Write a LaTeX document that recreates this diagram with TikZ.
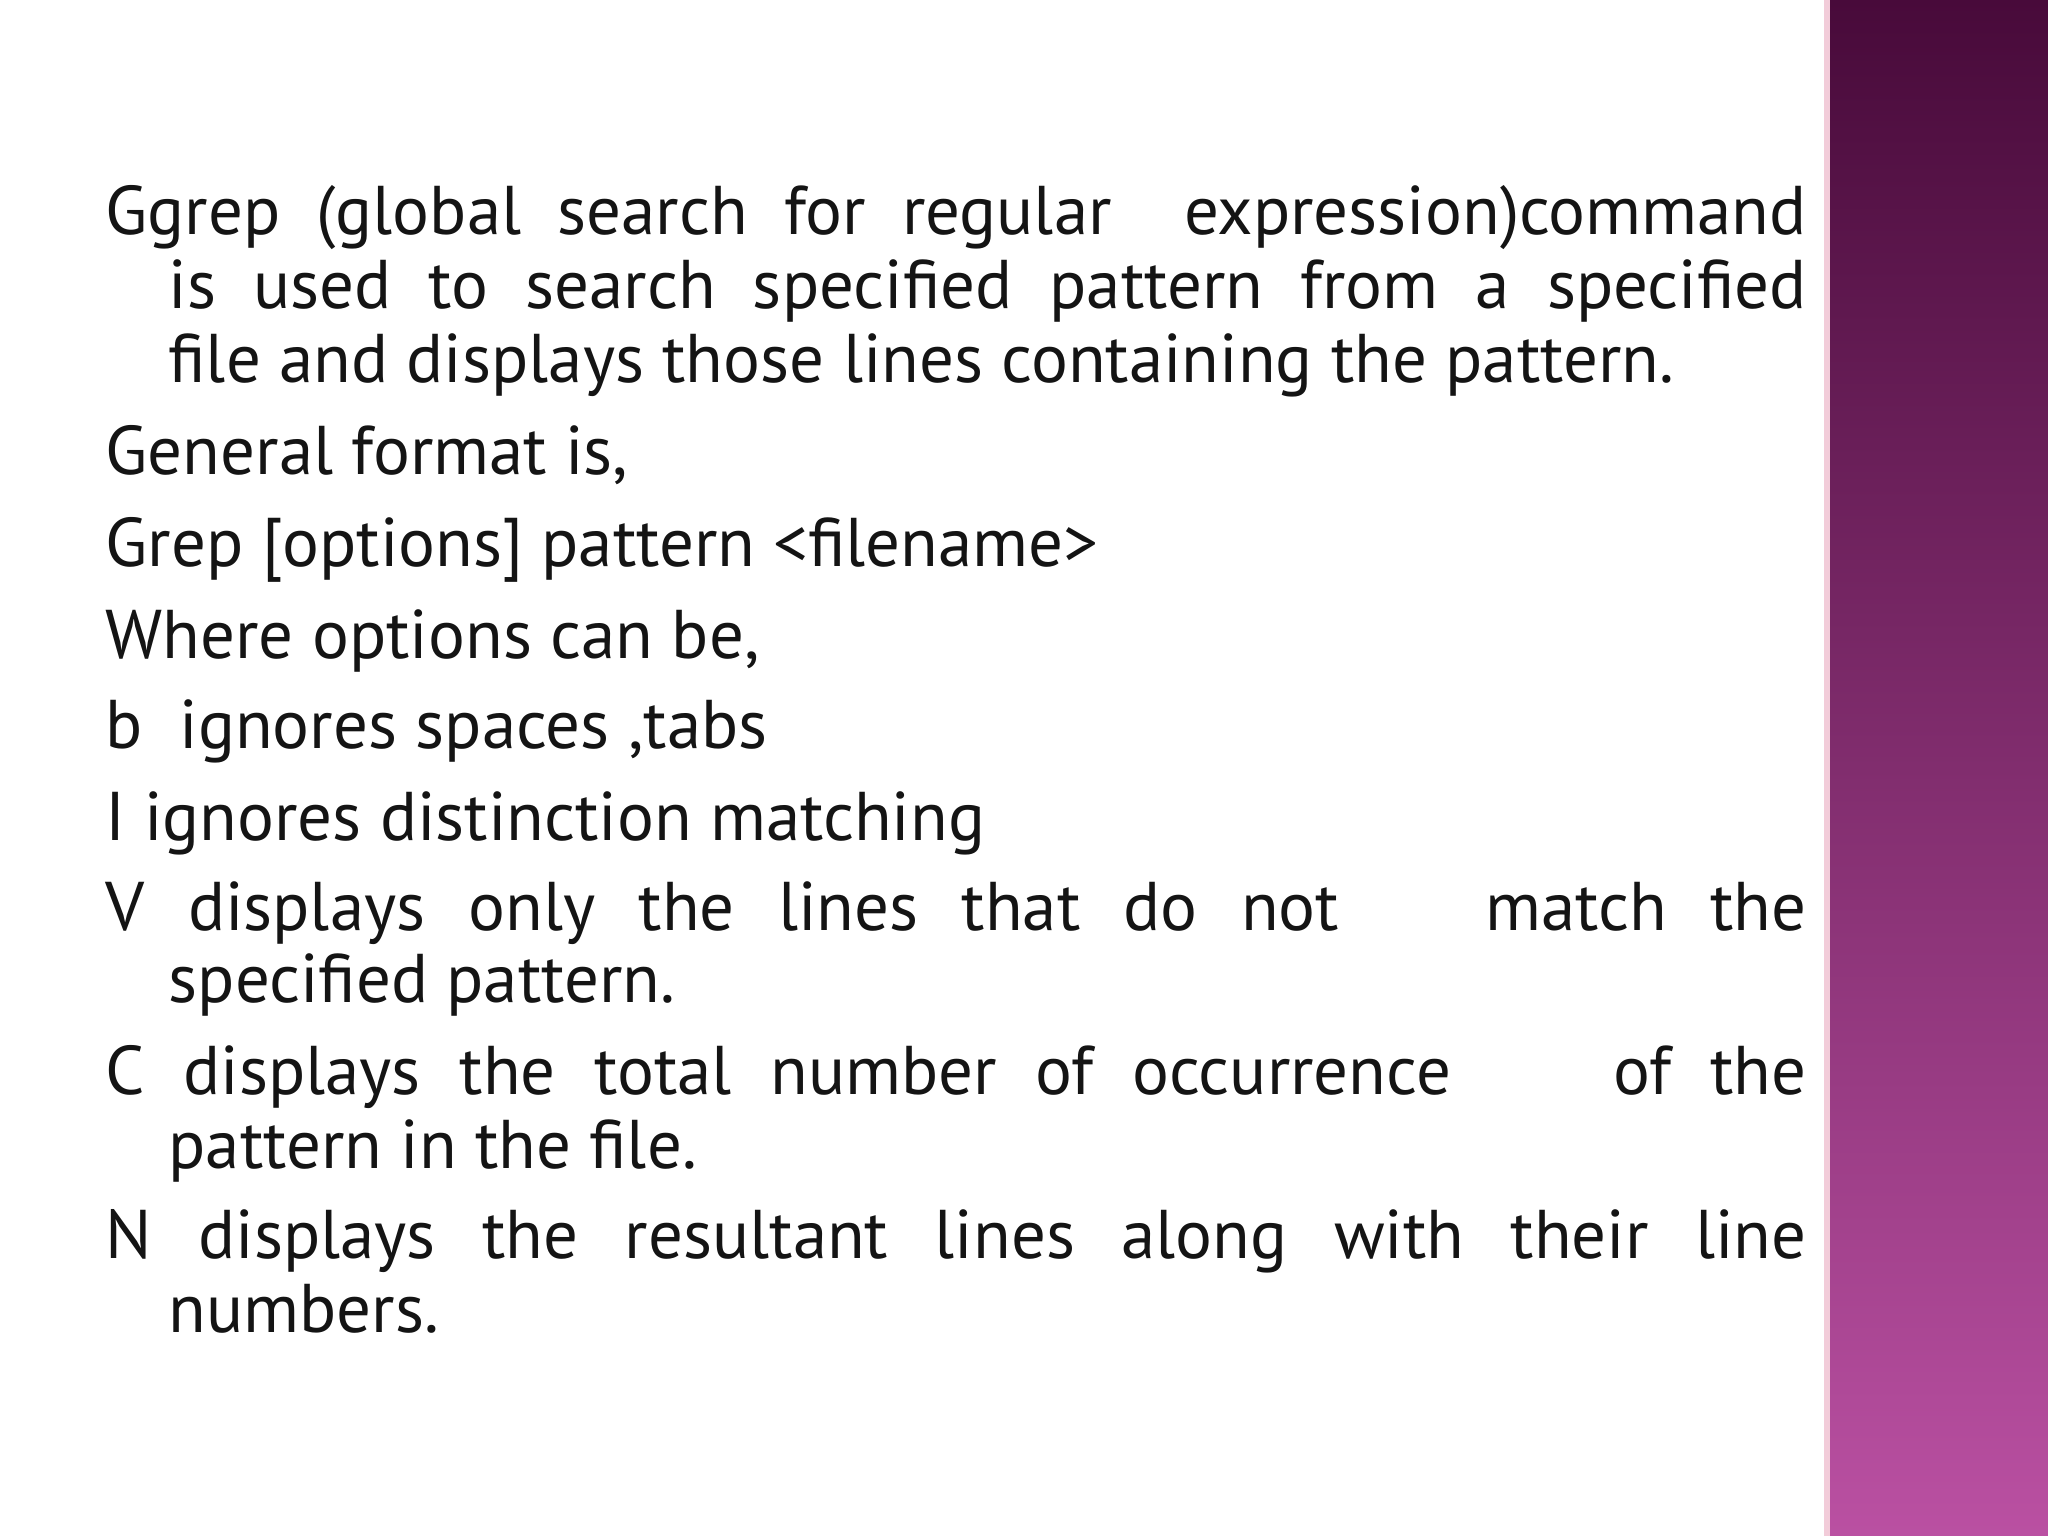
\documentclass[tikz,border=0pt]{standalone}
\usepackage{fontspec}
\setmainfont{PT Sans}
\begin{document}
\begin{tikzpicture}[x=0.01cm,y=-0.01cm,
  ln/.style={anchor=base west,inner sep=0,font=\fontsize{19.6pt}{22pt}\selectfont,text=black!92}]
\useasboundingbox (0,0) rectangle (2048,1536);
\fill[white] (0,0) rectangle (2048,1536);
\shade[top color={rgb,255:red,72;green,10;blue,58},bottom color={rgb,255:red,186;green,80;blue,162}] (1826,0) rectangle (2048,1536);
\draw[white!80!purple,line width=1.5pt] (1827,0) -- (1827,1536);
\node[ln] (l1) at (105,234) {\makebox[17cm][s]{Ggrep (global search for regular \ expression)command}};
\node[ln] (l2) at (168,308) {\makebox[16.37cm][s]{is used to search specified pattern from a specified}};
\node[ln] (l3) at (168,382) {file and displays those lines containing the pattern.};
\node[ln] (l4) at (105,474) {General format is,};
\node[ln] (l5) at (105,566) {Grep [options] pattern <filename>};
\node[ln] (l6) at (105,658) {Where options can be,};
\node[ln] (l7) at (105,748) {b \ ignores spaces ,tabs};
\node[ln] (l8) at (105,840) {I ignores distinction matching};
\node[ln] (l9) at (105,930) {\makebox[17cm][s]{V displays only the lines that do not\hspace{1.5em} match the}};
\node[ln] (l10) at (168,1002) {specified pattern.};
\node[ln] (l11) at (105,1094) {\makebox[17cm][s]{C displays the total number of occurrence\hspace{1.8em} of the}};
\node[ln] (l12) at (168,1168) {pattern in the file.};
\node[ln] (l13) at (105,1258) {\makebox[17cm][s]{N displays the resultant lines along with their line}};
\node[ln] (l14) at (168,1332) {numbers.};
\end{tikzpicture}
\end{document}
